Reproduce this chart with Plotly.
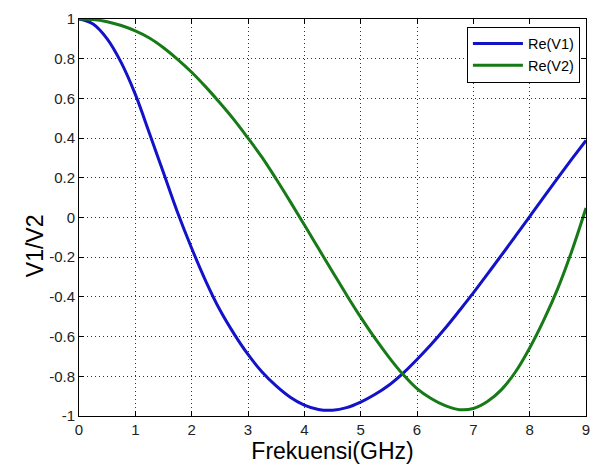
import plotly.graph_objects as go

freq = [0, 0.25, 0.5, 0.75, 1.0, 1.25, 1.5, 1.75, 2.0, 2.25, 2.5, 2.75, 3.0, 3.25, 3.5, 3.75,
        4.0, 4.25, 4.5, 4.75, 5.0, 5.25, 5.5, 5.75, 6.0, 6.25, 6.5, 6.75, 7.0, 7.25, 7.5, 7.75,
        8.0, 8.25, 8.5, 8.75, 9.0]
re_v1 = [1.0, 0.975, 0.90, 0.78, 0.62, 0.425, 0.225, 0.025, -0.155, -0.32, -0.465, -0.585,
         -0.69, -0.778, -0.848, -0.905, -0.945, -0.967, -0.971, -0.958, -0.93, -0.892, -0.845,
         -0.785, -0.715, -0.64, -0.558, -0.47, -0.38, -0.285, -0.19, -0.093, 0.005, 0.103, 0.2,
         0.295, 0.388]
re_v2 = [1.0, 0.997, 0.986, 0.967, 0.94, 0.904, 0.855, 0.797, 0.732, 0.658, 0.578, 0.493,
         0.40, 0.303, 0.194, 0.08, -0.037, -0.155, -0.273, -0.39, -0.502, -0.607, -0.703,
         -0.79, -0.862, -0.912, -0.948, -0.968, -0.962, -0.927, -0.867, -0.777, -0.657, -0.517,
         -0.357, -0.167, 0.048]
x_ticks = [0, 1, 2, 3, 4, 5, 6, 7, 8, 9]
y_ticks = [-1, -0.8, -0.6, -0.4, -0.2, 0, 0.2, 0.4, 0.6, 0.8, 1]
y_tick_text = ["-1", "-0.8", "-0.6", "-0.4", "-0.2", "0", "0.2", "0.4", "0.6", "0.8", "1"]

FONT = "Liberation Sans, Arial, sans-serif"

fig = go.Figure()
fig.add_trace(go.Scatter(x=freq, y=re_v1, mode="lines", name="Re(V1)",
                         line=dict(color="rgb(18,18,200)", width=3, shape="spline", smoothing=1.0)))
fig.add_trace(go.Scatter(x=freq, y=re_v2, mode="lines", name="Re(V2)",
                         line=dict(color="rgb(22,122,22)", width=3, shape="spline", smoothing=1.0)))

axis_common = dict(
    showline=True, linecolor="black", linewidth=1, mirror="ticks",
    ticks="inside", ticklen=5, tickcolor="black",
    showgrid=True, gridcolor="#333", griddash="1px,3px", gridwidth=1,
    zeroline=False,
    tickfont=dict(family=FONT, size=15, color="#222"),
)

fig.update_xaxes(range=[0, 9], tickvals=x_ticks,
                 title=dict(text="Frekuensi(GHz)", font=dict(family=FONT, size=23, color="black"), standoff=4),
                 **axis_common)
fig.update_yaxes(range=[-1, 1], tickvals=y_ticks, ticktext=y_tick_text, **axis_common)

fig.add_annotation(text="V1/V2", xref="paper", yref="paper", x=-0.087, y=0.43,
                   xanchor="center", yanchor="middle", textangle=-90, showarrow=False,
                   font=dict(family=FONT, size=23, color="black"))

fig.update_layout(
    width=597, height=465,
    margin=dict(l=79, r=7, t=19, b=48),
    paper_bgcolor="white", plot_bgcolor="white",
    showlegend=True,
    legend=dict(x=0.988, y=0.981, xanchor="right", yanchor="top",
                bgcolor="white", bordercolor="black", borderwidth=1,
                font=dict(family=FONT, size=14.5, color="black"),
                itemwidth=50, tracegroupgap=0),
)

fig.write_html("out.html")
